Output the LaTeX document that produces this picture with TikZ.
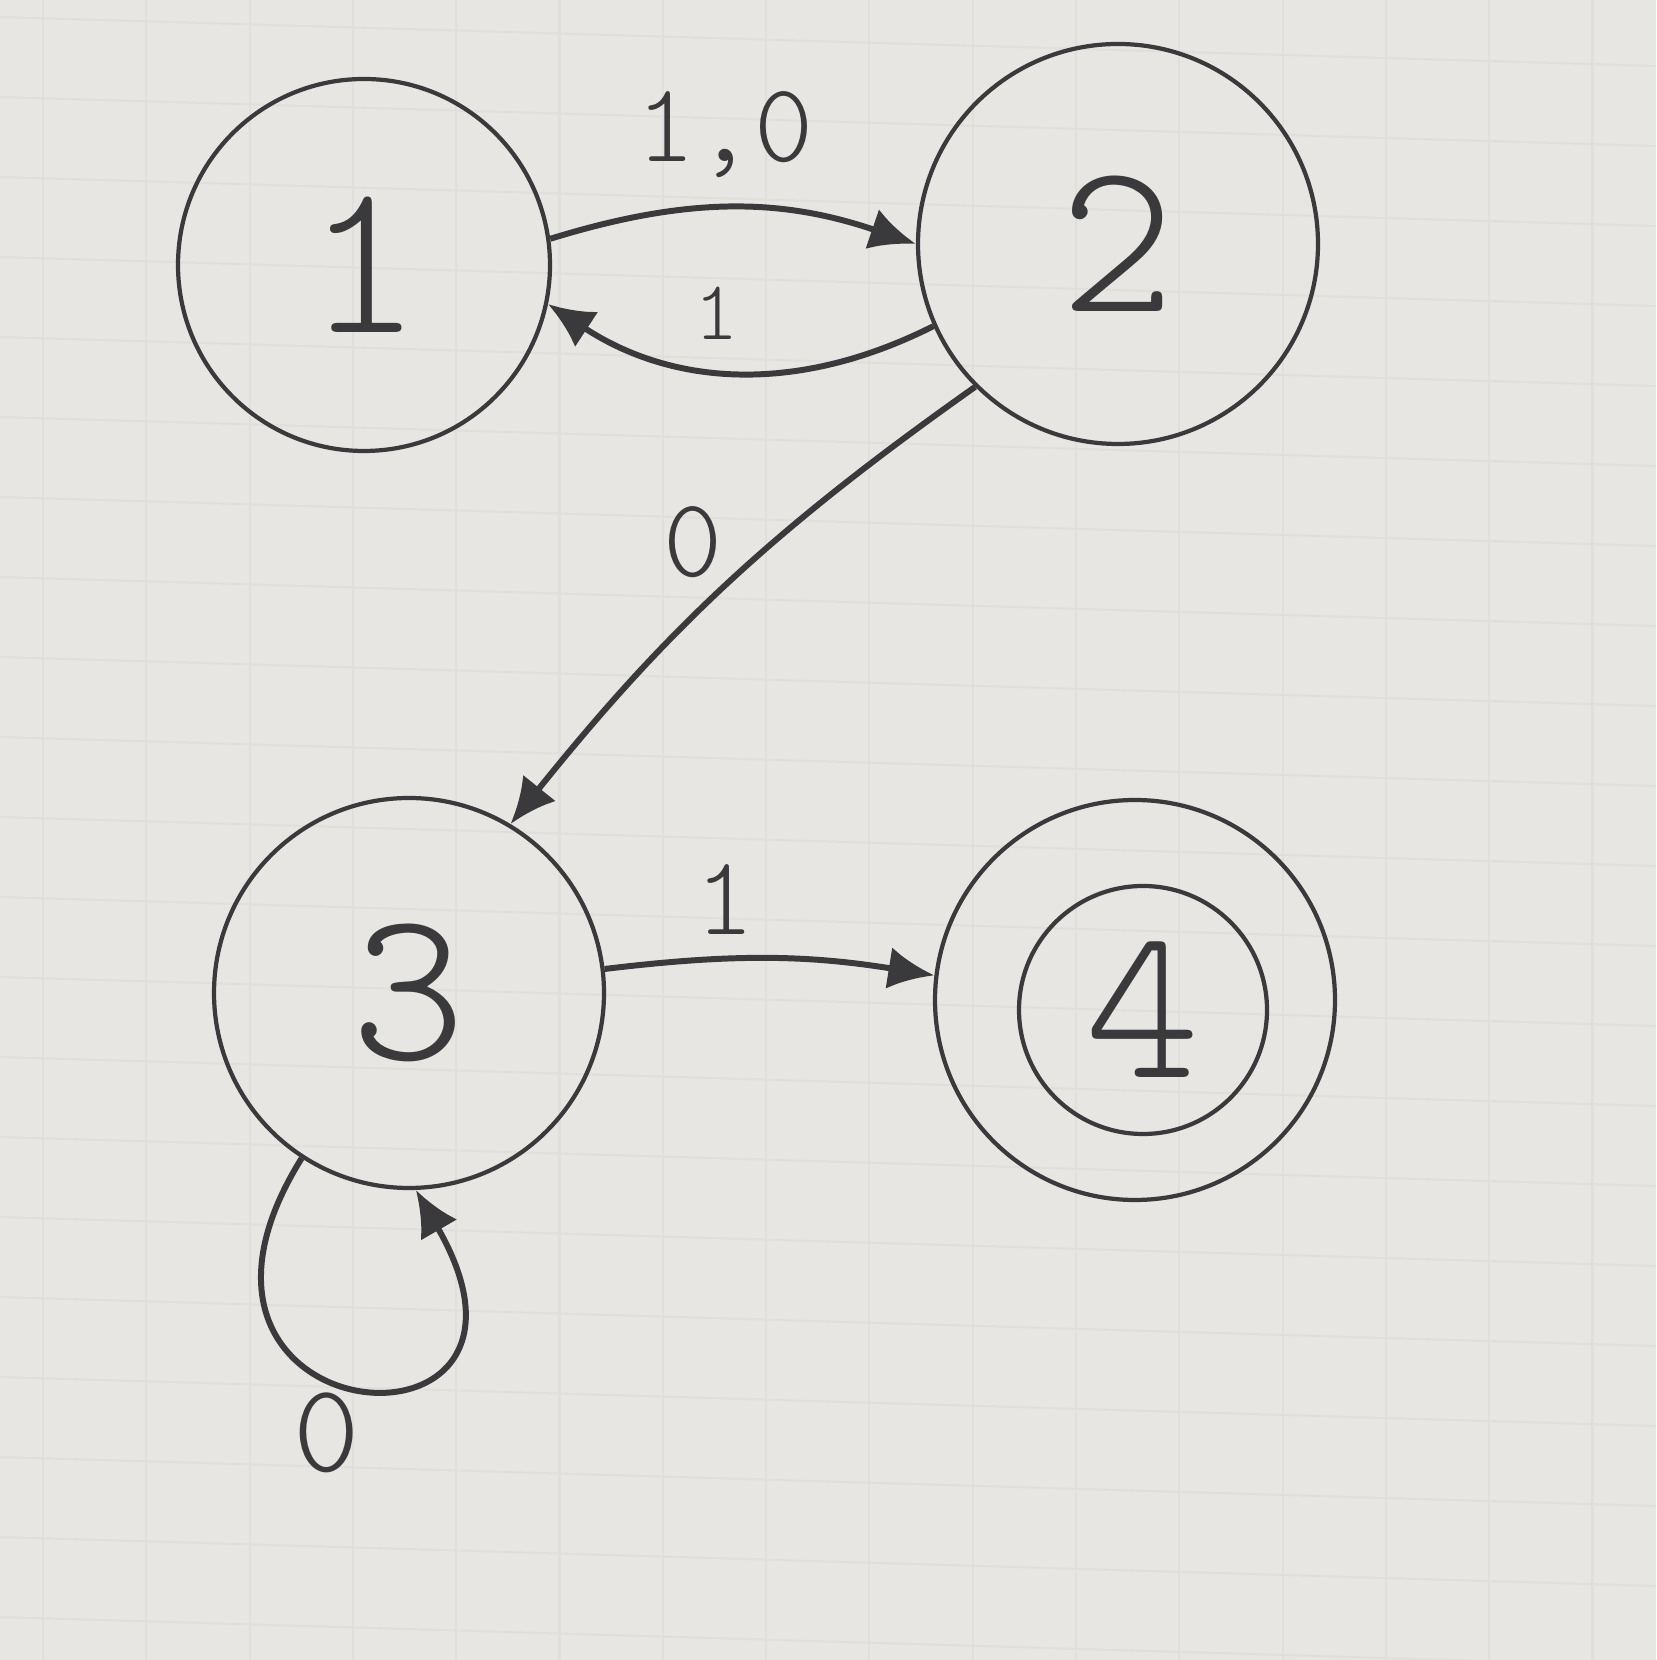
\documentclass[tikz,border=0pt]{standalone}
\usepackage{fontspec}
\newfontfamily\handfont{lmmonolt10-regular.otf}
\usetikzlibrary{arrows.meta}
\definecolor{ink}{RGB}{58,57,60}
\definecolor{paper}{RGB}{232,230,226}
\definecolor{gridline}{RGB}{225,223,219}

\begin{document}
\begin{tikzpicture}[
  state/.style={circle, draw=ink, line width=1.2pt, inner sep=0pt, text=ink,
    font=\handfont\fontsize{62}{62}\selectfont},
  edge/.style={draw=ink, line width=1.7pt, -{Latex[length=4.6mm,width=4.2mm]}},
  lbl/.style={text=ink, inner sep=0pt, font=\handfont\fontsize{32}{32}\selectfont}
]
% paper
\fill[paper] (0,0) rectangle (16.56,16.60);
\useasboundingbox (0,0) rectangle (16.56,16.60);
\foreach \i in {0,...,15}
  \draw[gridline, line width=0.6pt] ({0.43+1.033*\i},0) -- ({0.43+1.033*\i},16.60);
\foreach \k in {-1,...,20}
  \draw[gridline, line width=0.6pt] (0,{16.43-0.8*\k}) -- (16.56,{15.94-0.8*\k});

% states
\node[state, minimum size=3.72cm] (n1) at (3.64,13.95) {1};
\node[state, minimum size=4.0cm] (n2) at (11.18,14.16) {2};
\node[state, minimum size=3.9cm] (n3) at (4.09,6.67) {3};
\node[state, minimum size=4.0cm] (n4) at (11.35,6.60) {};
\node[state, minimum size=2.48cm] (n4in) at (11.43,6.50) {4};

% transitions
\draw[edge] (n1.8) to[bend left=18] (n2.180);
\draw[edge] (n2.204) to[bend left=30] (n1.348);
\draw[edge] (n2.225) to[bend right=8] (n3.59);
\draw[edge] (n3.7) to[bend left=8] (n4.173);
\draw[edge] (n3.237) to[out=238, in=300, distance=3.3cm] (n3.272);

% labels
\node[lbl] (l12) at (7.25,15.25) {1,0};
\node[lbl, font=\handfont\fontsize{24}{24}\selectfont] (l21) at (7.17,13.47) {1};
\node[lbl] (l23) at (6.93,11.18) {0};
\node[lbl] (l34) at (7.25,7.60) {1};
\node[lbl, font=\handfont\fontsize{36}{36}\selectfont] (l33) at (3.27,2.27) {0};
\end{tikzpicture}
\end{document}
